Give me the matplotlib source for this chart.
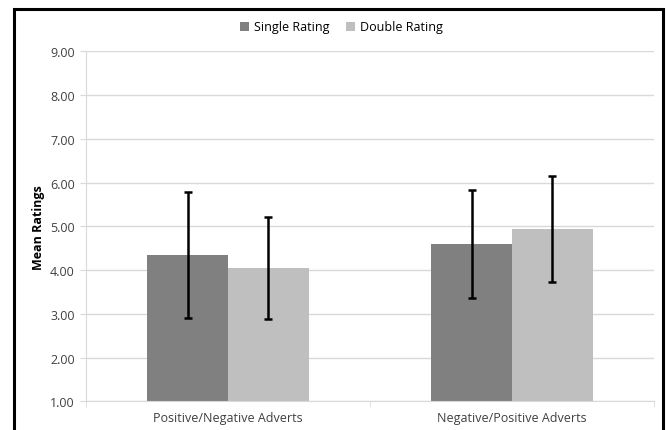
import numpy as np
import matplotlib.pyplot as plt
from matplotlib.patches import Rectangle

categories = ["Positive/Negative Adverts", "Negative/Positive Adverts"]
series_names = ["Single Rating", "Double Rating"]
single_means = [4.34, 4.60]
double_means = [4.04, 4.94]
single_err = [1.44, 1.23]
double_err = [1.17, 1.21]
yticks = [1, 2, 3, 4, 5, 6, 7, 8, 9]

plt.rcParams["font.family"] = ["Open Sans", "DejaVu Sans"]
fs = 9

fig = plt.figure(figsize=(6.66, 4.31), dpi=100)
ax = fig.add_axes([86 / 666, 0.0666, 568 / 666, 0.8121])

x = np.arange(len(categories))
w = 0.285
base = 1.0
ax.bar(x - w / 2, np.array(single_means) - base, w, bottom=base, color="#808080",
       label=series_names[0], zorder=2)
ax.bar(x + w / 2, np.array(double_means) - base, w, bottom=base, color="#bfbfbf",
       label=series_names[1], zorder=2)
ax.errorbar(x - w / 2, single_means, yerr=single_err, fmt="none", ecolor="black",
            elinewidth=1.8, capsize=3, capthick=1.8, zorder=3)
ax.errorbar(x + w / 2, double_means, yerr=double_err, fmt="none", ecolor="black",
            elinewidth=1.8, capsize=3, capthick=1.8, zorder=3)

ax.set_xlim(-0.5, 1.5)
ax.set_ylim(1, 9)
ax.set_yticks(yticks)
ax.set_yticklabels([f"{v:.2f}" for v in yticks], fontsize=fs, color="#404040")
ax.yaxis.grid(True, color="#d9d9d9", linewidth=1, zorder=0)
ax.set_xticks(x)
ax.set_xticklabels(categories, fontsize=fs, color="#404040")
ax.tick_params(axis="x", length=0, pad=7)
ax.tick_params(axis="y", length=4, color="#d9d9d9", pad=4)
# category boundary ticks
ax.set_xticks([-0.5, 0.5, 1.5], minor=True)
ax.tick_params(axis="x", which="minor", length=4, color="#d9d9d9")

for s in ["top", "right"]:
    ax.spines[s].set_visible(False)
ax.spines["left"].set_color("#d9d9d9")
ax.spines["bottom"].set_color("#d9d9d9")

ax.set_ylabel("Mean Ratings", fontsize=fs, fontweight="bold", labelpad=4)

fig.legend(loc="center", bbox_to_anchor=(341.5 / 666, 1 - 28 / 431), ncol=2,
           frameon=False, fontsize=fs, handlelength=0.7, handleheight=0.7,
           columnspacing=1.3, handletextpad=0.4)

# outer chart frame (cut off at the bottom)
fig.patches.append(Rectangle((14 / 666, -0.05), 649 / 666, 1.05 - 10 / 431,
                             transform=fig.transFigure, fill=False,
                             edgecolor="black", linewidth=2.2))

fig.savefig("out.png", dpi=100)
